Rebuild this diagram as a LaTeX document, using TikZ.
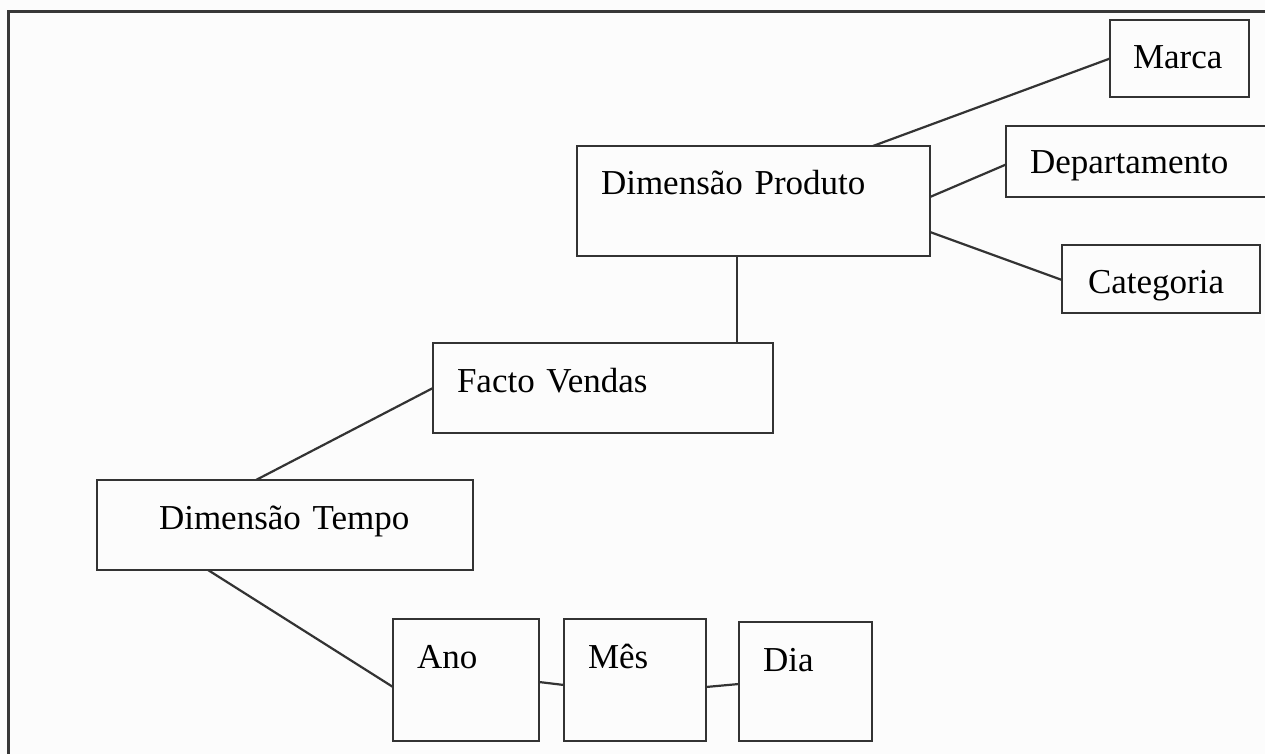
\documentclass[tikz,border=0pt]{standalone}
\usepackage{fontspec}
\setmainfont{Liberation Serif}
\begin{document}
\begin{tikzpicture}[x=1pt,y=-1pt,
  ink/.style={draw=black!80, line width=2.4pt},
  % box whose text baseline and left margin are set explicitly
  % #1 width, #2 height, #3 left margin, #4 baseline offset from top
  boxl/.style n args={4}{ink, anchor=north west, outer sep=0pt,
    inner ysep=0pt, inner xsep=#3, text width=#1-2*#3, align=left,
    text height=#4, text depth=#2-#4,
    font=\fontsize{35}{40}\selectfont},
  link/.style={draw=black!80, line width=2.2pt}
]
\useasboundingbox (0,0) rectangle (1265,754);
\fill[white!99!black] (0,0) rectangle (1265,754);

% outer frame, open to the right and bottom
\draw[draw=black!78, line width=3pt] (8.5,760) -- (8.5,11.5) -- (1270,11.5);

% product dimension and its attributes
\node[boxl={353pt}{110pt}{24pt}{48pt}] (prod) at (577,146) {Dimensão Produto};
\node[boxl={139pt}{77pt}{23pt}{49pt}]  (marca) at (1110,20) {Marca};
\node[boxl={274pt}{71pt}{24pt}{48pt}]  (dept) at (1006,126) {Departamento};
\node[boxl={198pt}{68pt}{26pt}{48pt}]  (cat) at (1062,245) {Categoria};

% fact table
\node[boxl={340pt}{90pt}{24pt}{49pt}]  (fact) at (433,343) {Facto Vendas};

% time dimension and its levels
\node[boxl={376pt}{90pt}{62pt}{49pt}]  (tempo) at (97,480) {Dimensão Tempo};
\node[boxl={146pt}{122pt}{24pt}{49pt}] (ano) at (393,619) {Ano};
\node[boxl={142pt}{122pt}{24pt}{49pt}] (mes) at (564,619) {Mês};
\node[boxl={133pt}{119pt}{24pt}{49pt}] (dia) at (739,622) {Dia};

% connectors
\draw[link] (marca.west) -- ([xshift=296pt]prod.north west);
\draw[link] ([yshift=-3pt]dept.west) -- ([yshift=-51pt]prod.north east);
\draw[link] ([yshift=-1pt]cat.west) -- ([yshift=-86pt]prod.north east);
\draw[link] ([xshift=160pt]prod.south west) -- ([xshift=304pt]fact.north west);
\draw[link] ([yshift=-45pt]fact.north west) -- ([xshift=159pt]tempo.north west);
\draw[link] ([xshift=111pt]tempo.south west) -- ([yshift=-68pt]ano.north west);
\draw[link] ([yshift=-63pt]ano.north east) -- ([yshift=-66pt]mes.north west);
\draw[link] ([yshift=-68pt]mes.north east) -- ([yshift=-62pt]dia.north west);
\end{tikzpicture}
\end{document}
